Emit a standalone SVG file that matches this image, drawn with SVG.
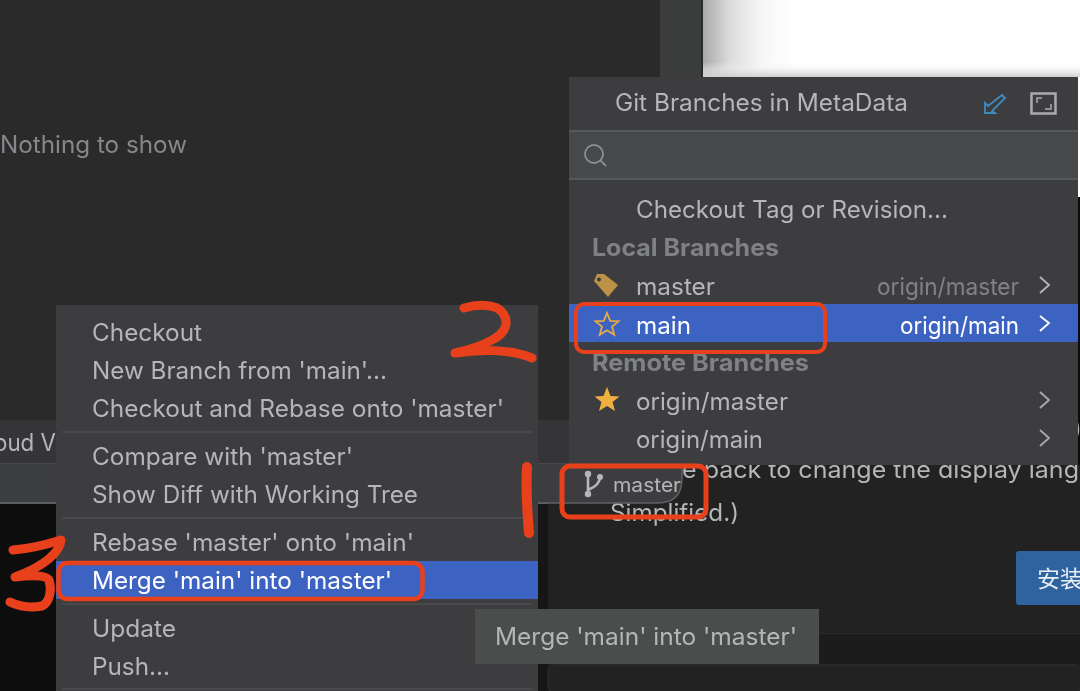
<svg xmlns="http://www.w3.org/2000/svg" width="1080" height="691" viewBox="0 0 1080 691">
<defs>
<linearGradient id="wg" x1="0" x2="1" y1="0" y2="0"><stop offset="0" stop-color="#a8a8a8"/><stop offset="0.3" stop-color="#dcdcdc"/><stop offset="0.65" stop-color="#f6f6f6"/><stop offset="1" stop-color="#fff"/></linearGradient>
<linearGradient id="wb" x1="0" x2="0" y1="0" y2="1"><stop offset="0" stop-color="#fff" stop-opacity="0"/><stop offset="1" stop-color="#cfcfcf"/></linearGradient>
<filter id="soft" x="0" y="0" width="100%" height="100%"><feGaussianBlur stdDeviation="0.45"/></filter>
</defs>
<style>
text{font-family:"Inter","Liberation Sans",sans-serif;font-size:24px;fill:#b4b6b8}
.w{fill:#fff}
.h{font-weight:700;fill:#7f8183}
.d{fill:#808284}
.sep{stroke:#4d4f51;stroke-width:1.5}
.red{fill:none;stroke:#e9401f;stroke-linecap:round;stroke-linejoin:round}
</style>
<g filter="url(#soft)">
<g id="background">
<rect width="1080" height="691" fill="#1c1c1c"/>
<rect width="660" height="425" fill="#2b2b2b"/>
<rect x="660" width="41" height="197" fill="#3a3c3e"/>
<rect x="701" width="2" height="197" fill="#2a2c2e"/>
<rect x="703" width="377" height="197" fill="#fff"/>
<rect x="703" width="90" height="197" fill="url(#wg)"/>
<rect x="703" y="62" width="377" height="15" fill="url(#wb)"/>
<rect x="1078" y="197" width="2" height="268" fill="#111"/>
<rect x="0" y="420" width="569" height="43" fill="#343638"/>
<rect x="0" y="463" width="569" height="40" fill="#3b3d3f"/>
<rect x="0" y="463" width="569" height="1" fill="#45484a"/>
<rect x="0" y="502" width="569" height="2" fill="#5a5c5e"/>
<rect x="0" y="504" width="60" height="187" fill="#101010"/>
<rect x="538" y="504" width="10" height="187" fill="#121212"/>
<rect x="548" y="465" width="532" height="168" fill="#202020"/>
<rect x="548" y="633" width="532" height="1" fill="#2b2b2b"/>
<rect x="548" y="665" width="533" height="27" rx="6" fill="#242424" stroke="#2e2e2e"/>
<text x="0" y="153" style="fill:#85878a" textLength="187" lengthAdjust="spacingAndGlyphs">Nothing to show</text>
<text x="-6" y="451" textLength="62" lengthAdjust="spacingAndGlyphs">oud V</text>
<text x="682" y="478" textLength="397" lengthAdjust="spacingAndGlyphs">e pack to change the display lang</text>
<text x="610" y="521" textLength="129" lengthAdjust="spacingAndGlyphs">Simplified.)</text>
<text x="1073" y="437">)</text>
<rect x="1016" y="551" width="70" height="54" rx="3" fill="#2f639f"/>
<text x="1037" y="587" style="font-family:'Noto Sans CJK SC',sans-serif;font-size:23px;fill:#e8eef5">安装</text>
</g>
<g id="branches-popup">
<rect x="569" y="77" width="509" height="388" fill="#3d3e40"/>
<rect x="569" y="131" width="509" height="48" fill="#45494a"/>
<line x1="569" x2="1078" y1="131" y2="131" class="sep" style="stroke:#5e6163"/>
<line x1="569" x2="1078" y1="179" y2="179" class="sep" style="stroke:#5e6163"/>
<text x="615" y="111" textLength="293" lengthAdjust="spacingAndGlyphs">Git Branches in MetaData</text>
<path d="M1002 95 L1005 98 L992 111 L995 113 H985 V103 L988 106 Z" fill="none" stroke="#3d8bc0" stroke-width="1.800"/>
<rect x="1031.500" y="93.500" width="24" height="20" fill="none" stroke="#a9abad" stroke-width="2.500"/>
<path d="M1037 103 V98 H1042 M1045 109 H1051 V104" fill="none" stroke="#a9abad" stroke-width="1.500"/>
<circle cx="594" cy="154" r="9" fill="none" stroke="#8b8e90" stroke-width="1.800"/>
<line x1="600.500" y1="160.500" x2="606" y2="166" stroke="#8b8e90" stroke-width="1.800"/>
<text x="636" y="218" textLength="312" lengthAdjust="spacingAndGlyphs">Checkout Tag or Revision...</text>
<text x="592" y="256" class="h" textLength="187" lengthAdjust="spacingAndGlyphs">Local Branches</text>
<path d="M594 281 L597 274 L604 274 L618 285 L608 297 Z" fill="#bd9247"/>
<circle cx="599" cy="279.500" r="2" fill="#3d3e40"/>
<text x="636" y="295" textLength="79" lengthAdjust="spacingAndGlyphs">master</text>
<text x="877" y="295" class="d" textLength="142" lengthAdjust="spacingAndGlyphs">origin/master</text>
<path d="M1040 277 L1049 285 L1040 293" fill="none" stroke="#b4b6b8" stroke-width="1.800"/>
<rect x="569" y="304" width="509" height="38" fill="#3d63c2"/>
<path d="M607 313 L610.200 321 L618.500 321.400 L612 326.600 L614.200 334.700 L607 330.200 L599.800 334.700 L602 326.600 L595.500 321.400 L603.800 321 Z" fill="none" stroke="#e7ab45" stroke-width="1.800"/>
<text x="636" y="334" class="w" textLength="55" lengthAdjust="spacingAndGlyphs">main</text>
<text x="900" y="334" class="w" textLength="119" lengthAdjust="spacingAndGlyphs">origin/main</text>
<path d="M1040 316 L1049 323 L1040 331" fill="none" stroke="#fff" stroke-width="1.800"/>
<text x="592" y="371" class="h" textLength="217" lengthAdjust="spacingAndGlyphs">Remote Branches</text>
<path d="M607 387 L610.500 396 L619.500 396.400 L612.500 402 L615 411 L607 406 L599 411 L601.500 402 L594.500 396.400 L603.500 396 Z" fill="#f0b040"/>
<text x="636" y="410" textLength="152" lengthAdjust="spacingAndGlyphs">origin/master</text>
<path d="M1040 392 L1049 400 L1040 408" fill="none" stroke="#a9abad" stroke-width="1.800"/>
<text x="636" y="448" textLength="127" lengthAdjust="spacingAndGlyphs">origin/main</text>
<path d="M1040 430 L1049 438 L1040 446" fill="none" stroke="#a9abad" stroke-width="1.800"/>
</g>
<g id="status-branch">
<path d="M538 465 H682 V478 Q682 503 658 503 H538 Z" fill="#3d3e40"/>
<path d="M682 465 V478 Q682 503 658 503 H538" fill="none" stroke="#5f6163" stroke-width="1.500"/>
<circle cx="588" cy="474" r="3.200" fill="#b4b6b8"/><circle cx="588" cy="494" r="3.200" fill="#b4b6b8"/><circle cx="600" cy="477" r="3" fill="#b4b6b8"/>
<path d="M588 474 V494 M600 477 Q600 485 588 490" fill="none" stroke="#b4b6b8" stroke-width="2.600"/>
<text x="613" y="492" style="font-size:20px" textLength="68" lengthAdjust="spacingAndGlyphs">master</text>
</g>
<g id="context-menu">
<rect x="56" y="305" width="482" height="386" fill="#3d3e40"/>
<rect x="56" y="561" width="482" height="38" fill="#3d63c2"/>
<line x1="62" x2="532" y1="432" y2="432" class="sep"/>
<line x1="62" x2="532" y1="518" y2="518" class="sep"/>
<line x1="62" x2="532" y1="604" y2="604" class="sep"/>
<line x1="62" x2="532" y1="689" y2="689" class="sep"/>
<text x="92" y="341" textLength="110" lengthAdjust="spacingAndGlyphs">Checkout</text>
<text x="92" y="379" textLength="295" lengthAdjust="spacingAndGlyphs">New Branch from 'main'...</text>
<text x="92" y="417" textLength="412" lengthAdjust="spacingAndGlyphs">Checkout and Rebase onto 'master'</text>
<text x="92" y="465" textLength="261" lengthAdjust="spacingAndGlyphs">Compare with 'master'</text>
<text x="92" y="503" textLength="326" lengthAdjust="spacingAndGlyphs">Show Diff with Working Tree</text>
<text x="92" y="551" textLength="322" lengthAdjust="spacingAndGlyphs">Rebase 'master' onto 'main'</text>
<text x="92" y="589" class="w" textLength="300" lengthAdjust="spacingAndGlyphs">Merge 'main' into 'master'</text>
<text x="92" y="637" textLength="84" lengthAdjust="spacingAndGlyphs">Update</text>
<text x="92" y="675" textLength="78" lengthAdjust="spacingAndGlyphs">Push...</text>
</g>
<g id="tooltip">
<rect x="475" y="609" width="344" height="55" fill="#4b4d4d"/>
<text x="495" y="645" textLength="302" lengthAdjust="spacingAndGlyphs">Merge 'main' into 'master'</text>
</g>
<g id="connectors">
<rect x="576" y="304" width="249" height="48" rx="8" class="red" stroke-width="4"/>
<rect x="562" y="466" width="144" height="51" rx="8" class="red" stroke-width="5"/>
<rect x="58.500" y="563" width="364" height="36" rx="9" class="red" stroke-width="4.500"/>
<path d="M527 467 C526 485 527 510 529 533" class="red" stroke-width="10"/>
<path d="M464 308 C478 304 496 304 502 312 C510 322 506 333 492 340 C482 346 468 350 455 353 C480 349 510 349 532 358" class="red" stroke-width="9"/>
<path d="M13 550 C28 549 45 545 61 540 C60 552 45 566 15 577 C30 575 46 575 49 580 C52 590 50 602 42 606 C30 608 18 606 10 602" class="red" stroke-width="9"/>
</g>
</g>
</svg>
